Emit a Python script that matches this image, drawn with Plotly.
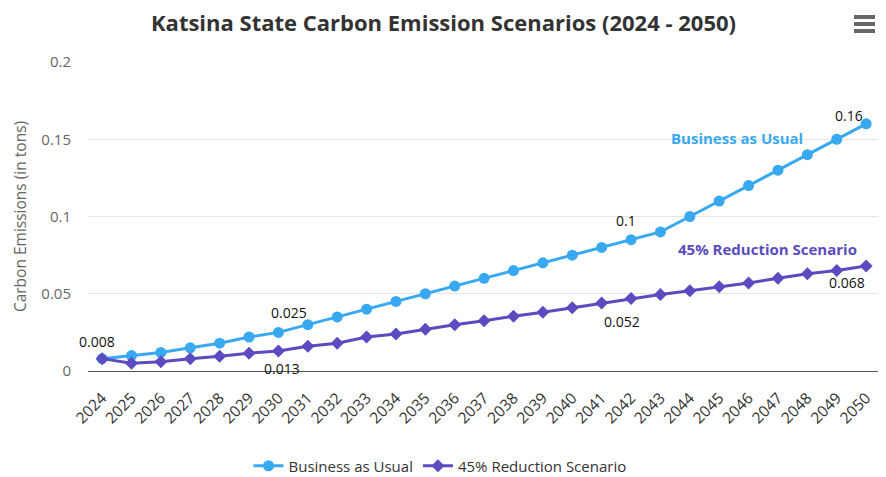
import plotly.graph_objects as go

years = list(range(2024, 2051))
year_labels = [str(y) for y in years]
business_as_usual = [0.008, 0.01, 0.012, 0.015, 0.018, 0.022, 0.025, 0.03, 0.035, 0.04,
                     0.045, 0.05, 0.055, 0.06, 0.065, 0.07, 0.075, 0.08, 0.085, 0.09,
                     0.1, 0.11, 0.12, 0.13, 0.14, 0.15, 0.16]
reduction_45 = [0.008, 0.005, 0.006, 0.008, 0.0095, 0.0115, 0.013, 0.016, 0.018, 0.022,
                0.024, 0.027, 0.03, 0.0325, 0.0355, 0.038, 0.041, 0.044, 0.047, 0.0495,
                0.052, 0.0545, 0.057, 0.06, 0.063, 0.065, 0.068]
y_ticks = [0, 0.05, 0.1, 0.15, 0.2]
y_ticktext = ["0", "0.05", "0.1", "0.15", "0.2"]

# value labels: (text, year, value, xshift, yshift)
value_labels = [
    ("0.008", 2024, 0.008, -5, 17),
    ("0.025", 2030, 0.025, 11, 20),
    ("0.013", 2030, 0.013, 4, -18),
    ("0.1", 2042, 0.085, -5, 19),
    ("0.052", 2042, 0.047, -9, -23),
    ("0.16", 2050, 0.16, -17, 8),
    ("0.068", 2050, 0.068, -19, -17),
]

BAU_COLOR = "#38a9f0"
RED_COLOR = "#5b4bc0"
FONT = "Open Sans, Segoe UI, sans-serif"

# page body has an 8px margin, so the figure is sized to fit the window
W, H = 878, 469
L, R, T, B = 80, 4, 54, 106
PW, PH = W - L - R, H - T - B

fig = go.Figure()
fig.add_trace(go.Scatter(
    x=years, y=business_as_usual, name="Business as Usual",
    mode="lines+markers",
    line=dict(color=BAU_COLOR, width=3),
    marker=dict(symbol="circle", size=11, color=BAU_COLOR),
))
fig.add_trace(go.Scatter(
    x=years, y=reduction_45, name="45% Reduction Scenario",
    mode="lines+markers",
    line=dict(color=RED_COLOR, width=3),
    marker=dict(symbol="diamond", size=10, color=RED_COLOR),
))

annotations = []
for text, yr, val, dx, dy in value_labels:
    annotations.append(dict(
        x=yr, y=val, xref="x", yref="y", text=text, showarrow=False,
        xshift=dx, yshift=dy,
        font=dict(size=14, color="#111", family=FONT),
    ))
annotations.append(dict(
    x=2046, y=0.15, xref="x", yref="y", text="<b>Business as Usual</b>",
    showarrow=False, xshift=-12, yshift=1,
    font=dict(size=15, color=BAU_COLOR, family=FONT),
))
annotations.append(dict(
    x=2047, y=0.078, xref="x", yref="y", text="<b>45% Reduction Scenario</b>",
    showarrow=False, xshift=-10, yshift=1,
    font=dict(size=15, color=RED_COLOR, family=FONT),
))

# hamburger menu icon
shapes = []
for i in range(3):
    top = 7 + i * 7
    shapes.append(dict(
        type="rect", xref="paper", yref="paper",
        x0=(846 - L) / PW, x1=(867 - L) / PW,
        y0=(H - B - (top + 4)) / PH, y1=(H - B - top) / PH,
        line=dict(width=0), fillcolor="#666",
    ))

fig.update_layout(
    width=W, height=H,
    margin=dict(l=L, r=R, t=T, b=B, autoexpand=False),
    paper_bgcolor="white", plot_bgcolor="white",
    font=dict(family=FONT, color="#333"),
    title=dict(
        text="<b>Katsina State Carbon Emission Scenarios (2024 - 2050)</b>",
        x=(443.5 - 8) / W, xanchor="center", y=1 - 15.5 / H, yanchor="middle",
        font=dict(size=22, color="#333", family=FONT),
    ),
    xaxis=dict(
        range=[2024 - 0.48, 2050 + 0.54], tickvals=years, ticktext=year_labels,
        tickangle=-45, automargin=False, ticklabelstandoff=11,
        showgrid=False, showline=True, linecolor="#555", linewidth=1,
        ticks="", tickfont=dict(size=15.5, color="#333"),
        zeroline=False, fixedrange=True,
    ),
    yaxis=dict(
        range=[0, 0.2], tickvals=y_ticks, ticktext=y_ticktext, automargin=False,
        showgrid=True, gridcolor="#e6e6e6", zeroline=False,
        tickfont=dict(size=15, color="#666"), ticklabelstandoff=16,
        title=dict(text="Carbon Emissions (in tons)", font=dict(size=15.5, color="#666"),
                   standoff=10),
        fixedrange=True,
    ),
    legend=dict(
        orientation="h", x=(440 - 8 - L) / PW, xanchor="center",
        y=-(466 - 8 - (H - B)) / PH, yanchor="middle",
        font=dict(size=15, color="#333"),
    ),
    showlegend=True,
    annotations=annotations,
    shapes=shapes,
)

fig.write_html("out.html", config={"displayModeBar": False})
